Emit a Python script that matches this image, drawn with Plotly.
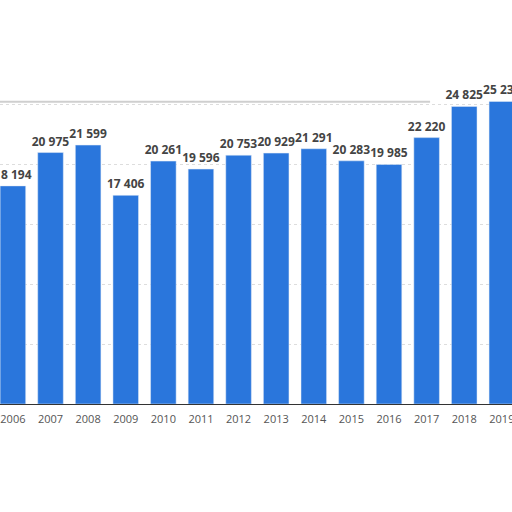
import plotly.graph_objects as go

# Values per year
years = ["2006", "2007", "2008", "2009", "2010", "2011", "2012",
         "2013", "2014", "2015", "2016", "2017", "2018", "2019"]
values = [18194, 20975, 21599, 17406, 20261, 19596, 20753,
          20929, 21291, 20283, 19985, 22220, 24825, 25235]
grid_ticks = [0, 5000, 10000, 15000, 20000, 25000]

fig = go.Figure()

fig.add_trace(go.Bar(
    x=years,
    y=values,
    marker_color="#2a76dc",
    texttemplate="%{y:,.0f}",
    textposition="outside",
    constraintext="none",
    textfont=dict(family="Open Sans", size=12, color="#444444", weight="bold"),
    cliponaxis=False,
    hoverinfo="skip",
))

# thin grey edge along the top of the chart
fig.add_shape(type="line", xref="paper", yref="paper",
              x0=0, x1=0.84, y0=0.748, y1=0.748,
              line=dict(color="#cfcfcf", width=2))

fig.update_layout(
    width=512,
    height=512,
    margin=dict(l=0, r=0, t=0, b=108, autoexpand=False),
    paper_bgcolor="white",
    plot_bgcolor="white",
    separators=". ",
    showlegend=False,
    bargap=0.32,
    font=dict(family="Open Sans", color="#555555"),
    xaxis=dict(
        type="category",
        range=[-0.343, 13.27],
        automargin=False,
        showgrid=False,
        showline=True,
        linecolor="#333333",
        linewidth=1,
        ticks="",
        ticklabelstandoff=5,
        tickfont=dict(size=11, color="#555555"),
    ),
    yaxis=dict(
        range=[0, 33700],
        automargin=False,
        tickmode="array",
        tickvals=grid_ticks,
        showticklabels=False,
        showgrid=True,
        gridcolor="#dddddd",
        griddash="dot",
        gridwidth=1,
        zeroline=False,
    ),
)

fig.write_html("out.html", config={"displayModeBar": False},
               post_script="document.body.style.margin='0px';")
